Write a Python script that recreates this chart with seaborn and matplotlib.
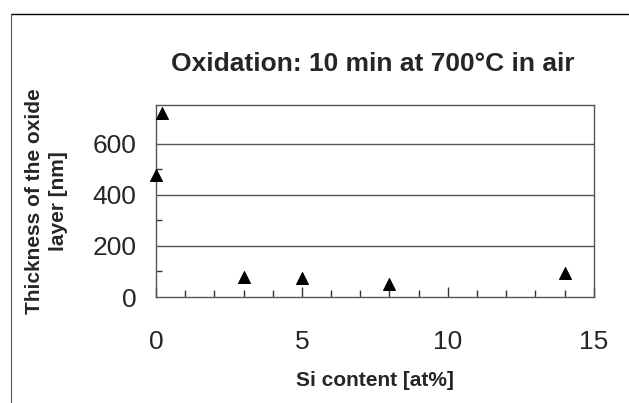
import seaborn as sns
import pandas as pd
import matplotlib.pyplot as plt
from matplotlib.ticker import MultipleLocator

si_content = [0, 0.2, 3, 5, 8, 14]
thickness = [478, 721, 80, 75, 52, 94]

df = pd.DataFrame({'si': si_content, 'thick': thickness})

sns.set_style('white')
plt.rcParams['font.family'] = ['Liberation Sans', 'DejaVu Sans']

fig = plt.figure(figsize=(6.29, 4.03), dpi=100)
ax = fig.add_axes([0.248, 0.263, 0.696, 0.476])

for v in [200, 400, 600]:
    ax.axhline(v, color='#555555', lw=1, zorder=0)

sns.scatterplot(data=df, x='si', y='thick', marker='^', color='black', s=75,
                edgecolor='black', ax=ax, zorder=3, clip_on=False)

ax.set_xlim(0, 15)
ax.set_ylim(0, 750)
ax.xaxis.set_major_locator(MultipleLocator(5))
ax.xaxis.set_minor_locator(MultipleLocator(1))
ax.yaxis.set_major_locator(MultipleLocator(200))
ax.yaxis.set_minor_locator(MultipleLocator(100))
ax.tick_params(axis='both', which='both', direction='in', color='#333333',
               bottom=True, left=True)
ax.tick_params(axis='x', which='major', length=7, width=1, labelsize=19, pad=24)
ax.tick_params(axis='x', which='minor', length=5, width=1)
ax.tick_params(axis='y', which='major', length=0, labelsize=19, pad=14)
ax.tick_params(axis='y', which='minor', length=4, width=1)

for sp in ax.spines.values():
    sp.set_color('#555555')
    sp.set_linewidth(1)

ax.set_xlabel('Si content [at%]', fontsize=15, fontweight='bold', labelpad=12)
ax.set_ylabel('Thickness of the oxide\nlayer [nm]', fontsize=15, fontweight='bold',
              labelpad=18, linespacing=1.3)
fig.text(0.593, 0.84, 'Oxidation: 10 min at 700°C in air', fontsize=19,
         fontweight='bold', ha='center', va='center')

# outer frame lines (top and left)
fig.add_artist(plt.Line2D([0.017, 1.0], [0.965, 0.965], color='black', lw=1))
fig.add_artist(plt.Line2D([0.017, 0.017], [0.0, 0.965], color='#555555', lw=0.8))

fig.savefig('out.png', dpi=100)
